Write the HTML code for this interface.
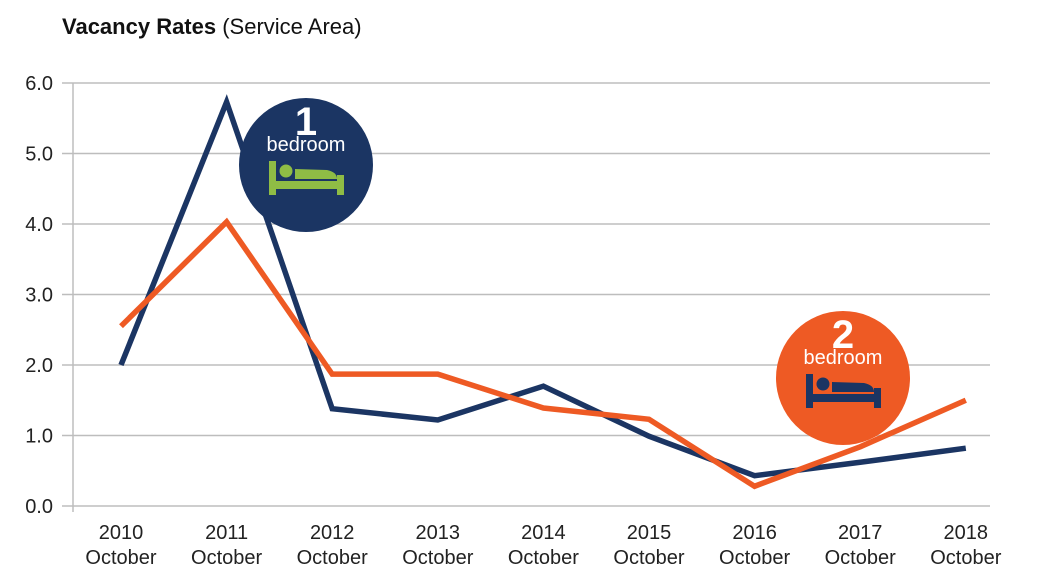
<!DOCTYPE html>
<html><head><meta charset="utf-8"><style>
body{margin:0;background:#fff;}
svg text{font-family:"Liberation Sans",sans-serif;}
</style></head><body>
<svg id="c" width="1051" height="575" xmlns="http://www.w3.org/2000/svg">
<text x="62" y="34" font-size="22" fill="#111"><tspan font-weight="bold">Vacancy Rates</tspan> (Service Area)</text>
<g id="grid"></g><g id="lines"></g><g id="badges"></g>
</svg>
<script>
const years=["2010","2011","2012","2013","2014","2015","2016","2017","2018"];
const oneBed=[2.0,5.73,1.38,1.22,1.70,0.99,0.43,0.62,0.82];
const twoBed=[2.55,4.03,1.87,1.87,1.39,1.23,0.28,0.84,1.50];
const yTicks=[0,1,2,3,4,5,6];
const NS="http://www.w3.org/2000/svg";
const X=i=>121+i*105.6, Y=v=>506-v*70.5;
function mk(t,a,p){const e=document.createElementNS(NS,t);for(const k in a)e.setAttribute(k,a[k]);p.appendChild(e);return e;}
const g=document.getElementById('grid');
yTicks.forEach(v=>{
 const l=mk('line',{x1:62,x2:990,y1:Y(v),y2:Y(v),stroke:'#bdbdbd','stroke-width':1.5},g);
 
 
 const t=mk('text',{x:53,y:Y(v)+7,'text-anchor':'end','font-size':20,fill:'#222'},g);t.textContent=v.toFixed(1);
 
 
});
const ax=mk('line',{x1:73,x2:73,y1:Y(6),y2:512,stroke:'#bdbdbd','stroke-width':1.5},g);


years.forEach((y,i)=>{
 const t=mk('text',{x:X(i),y:539,'text-anchor':'middle','font-size':20,fill:'#222'},g);
 
 
 mk('tspan',{x:X(i)},t).textContent=y;
 mk('tspan',{x:X(i),dy:25},t).textContent='October';
});
const L=document.getElementById('lines');
function series(d,c,n){const p=mk('polyline',{points:d.map((v,i)=>X(i)+','+Y(v)).join(' '),fill:'none',stroke:c,'stroke-width':5.5,'stroke-linejoin':'miter'},L);
 
 }
series(oneBed,'#1b3563','one-bedroom-line');
series(twoBed,'#ee5a24','two-bedroom-line');
const B=document.getElementById('badges');
function badge(cx,cy,col,num,bedCol,n){
 const gg=mk('g',{},B);
 
 
 mk('circle',{cx,cy,r:67,fill:col},gg);
 const t=mk('text',{x:cx,y:cy-30,'text-anchor':'middle','font-size':40,'font-weight':'bold',fill:'#fff'},gg);t.textContent=num;
 const b=mk('text',{x:cx,y:cy-14,'text-anchor':'middle','font-size':20,fill:'#fff'},gg);b.textContent='bedroom';
 const x0=cx-37,y0=cy-4;
 mk('rect',{x:x0,y:y0,width:7,height:34,fill:bedCol},gg);
 mk('rect',{x:x0+68,y:y0+14,width:7,height:20,fill:bedCol},gg);
 mk('rect',{x:x0+7,y:y0+20,width:61,height:8,fill:bedCol},gg);
 mk('circle',{cx:x0+17,cy:y0+10,r:6.5,fill:bedCol},gg);
 mk('path',{d:`M${x0+26} ${y0+18} L${x0+26} ${y0+8} L${x0+58} ${y0+9} Q${x0+68} ${y0+11} ${x0+68} ${y0+18} Z`,fill:bedCol},gg);
}
badge(306,165,'#1b3563','1','#8fbc45','one-bedroom-badge');
badge(843,378,'#ee5a24','2','#1b3563','two-bedroom-badge');
</script>
</body></html>
